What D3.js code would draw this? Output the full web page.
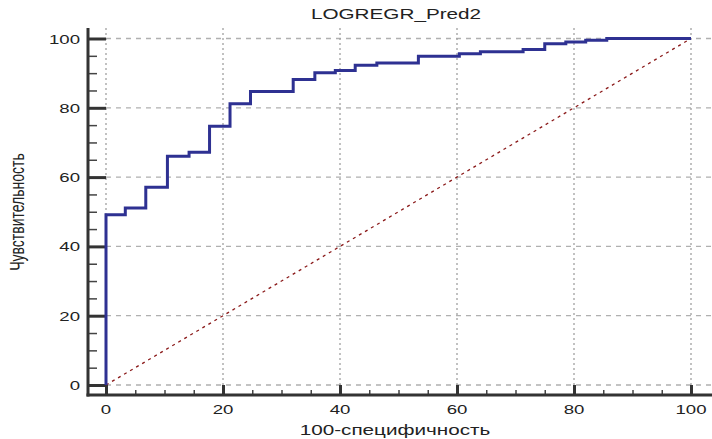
<!DOCTYPE html>
<html>
<head>
<meta charset="utf-8">
<script src="https://cdn.jsdelivr.net/npm/d3@7"></script>
<style>
  body { margin: 0; background: #fff; }
  text { font-family: "Liberation Sans", Arial, sans-serif; fill: #222; }
</style>
</head>
<body>
<script>
// ROC curve points (100-specificity, sensitivity)
const fpr = [0, 0, 3.3, 6.8, 10.5, 14.2, 17.7, 21.2, 24.7, 32.0, 35.7, 39.2, 42.6, 46.3, 53.4, 60.4, 64.0, 71.3, 75.0, 78.6, 82.0, 85.6, 100];
const tpr = [0, 49.1, 51.1, 57.1, 66.0, 67.2, 74.7, 81.2, 84.7, 88.2, 90.1, 90.8, 92.3, 92.9, 94.9, 95.6, 96.2, 96.8, 98.5, 99.0, 99.5, 100, 100];
const majorTicks = [0, 20, 40, 60, 80, 100];
const minorTicks = d3.range(0, 101, 5).filter(d => d % 20 !== 0);
const chartTitle = "LOGREGR_Pred2";
const xTitle = "100-специфичность";
const yTitle = "Чувствительность";

(function() {
    const width = 712,
          height = 439,
          spineX = 88,
          spineY = 395,
          top = 28,
          stretch = 1.38;

    const x = d3.scaleLinear().domain([0, 100]).range([106, 691]);
    const y = d3.scaleLinear().domain([0, 100]).range([385, 38.5]);

    let svg = d3.select('body')
                .append('svg')
                .attr('width', width)
                .attr('height', height);

    // grid
    svg.append('g')
       .selectAll('line')
       .data(majorTicks)
       .enter()
       .append('line')
       .attr('x1', x(0)).attr('x2', width)
       .attr('y1', d => y(d)).attr('y2', d => y(d))
       .attr('stroke', '#b0b0b0')
       .attr('stroke-width', 1.3)
       .attr('stroke-dasharray', '5,5');

    svg.append('g')
       .selectAll('line')
       .data(majorTicks)
       .enter()
       .append('line')
       .attr('x1', d => x(d)).attr('x2', d => x(d))
       .attr('y1', top).attr('y2', y(0))
       .attr('stroke', '#a0a0a0')
       .attr('stroke-width', 1.3)
       .attr('stroke-dasharray', '2,3');

    // axes ticks
    let xMajor = svg.append('g')
                    .attr('transform', `translate(0,${spineY})`)
                    .call(d3.axisBottom(x).tickValues(majorTicks).tickSize(-(spineY - y(0))).tickFormat(''));
    let xMinor = svg.append('g')
                    .attr('transform', `translate(0,${spineY})`)
                    .call(d3.axisBottom(x).tickValues(minorTicks).tickSize(-5).tickFormat(''));
    let yMajor = svg.append('g')
                    .attr('transform', `translate(${spineX},0)`)
                    .call(d3.axisLeft(y).tickValues(majorTicks).tickSize(-(x(0) - spineX)).tickFormat(''));
    let yMinor = svg.append('g')
                    .attr('transform', `translate(${spineX},0)`)
                    .call(d3.axisLeft(y).tickValues(minorTicks).tickSize(-9).tickFormat(''));

    [xMajor, xMinor, yMajor, yMinor].forEach(g => g.select('.domain').remove());
    [xMajor, yMajor].forEach(g => g.selectAll('line').attr('stroke', '#333').attr('stroke-width', 3));
    [xMinor, yMinor].forEach(g => g.selectAll('line').attr('stroke', '#444').attr('stroke-width', 1.5));

    // spines
    svg.append('line')
       .attr('x1', spineX).attr('x2', spineX)
       .attr('y1', top).attr('y2', spineY + 1.5)
       .attr('stroke', '#333').attr('stroke-width', 3);
    svg.append('line')
       .attr('x1', spineX - 1.5).attr('x2', width)
       .attr('y1', spineY).attr('y2', spineY)
       .attr('stroke', '#333').attr('stroke-width', 3);

    // tick labels
    svg.append('g')
       .selectAll('text')
       .data(majorTicks)
       .enter()
       .append('text')
       .attr('transform', d => `translate(${x(d)},414) scale(${stretch},1)`)
       .attr('text-anchor', 'middle')
       .attr('font-size', 13.5)
       .text(d => d);

    svg.append('g')
       .selectAll('text')
       .data(majorTicks)
       .enter()
       .append('text')
       .attr('transform', d => `translate(80,${y(d) + 5}) scale(${stretch},1)`)
       .attr('text-anchor', 'end')
       .attr('font-size', 13.5)
       .text(d => d);

    // reference diagonal
    svg.append('line')
       .attr('x1', x(0)).attr('y1', y(0))
       .attr('x2', x(100)).attr('y2', y(100))
       .attr('stroke', '#8b1a1a')
       .attr('stroke-width', 1.3)
       .attr('stroke-dasharray', '3,4');

    // ROC step curve
    let line = d3.line()
                 .x(d => x(d[0]))
                 .y(d => y(d[1]))
                 .curve(d3.curveStepAfter);

    svg.append('path')
       .datum(fpr.map((d, i) => [d, tpr[i]]))
       .attr('d', line)
       .attr('fill', 'none')
       .attr('stroke', '#2e3192')
       .attr('stroke-width', 3);

    // titles
    svg.append('text')
       .attr('transform', `translate(396,19) scale(${stretch},1)`)
       .attr('text-anchor', 'middle')
       .attr('font-size', 15)
       .text(chartTitle);

    svg.append('text')
       .attr('transform', `translate(395,435) scale(${stretch},1)`)
       .attr('text-anchor', 'middle')
       .attr('font-size', 15)
       .text(xTitle);

    svg.append('text')
       .attr('transform', `translate(24,212) scale(${stretch},1) rotate(-90)`)
       .attr('text-anchor', 'middle')
       .attr('font-size', 14)
       .text(yTitle);
})();
</script>
</body>
</html>
